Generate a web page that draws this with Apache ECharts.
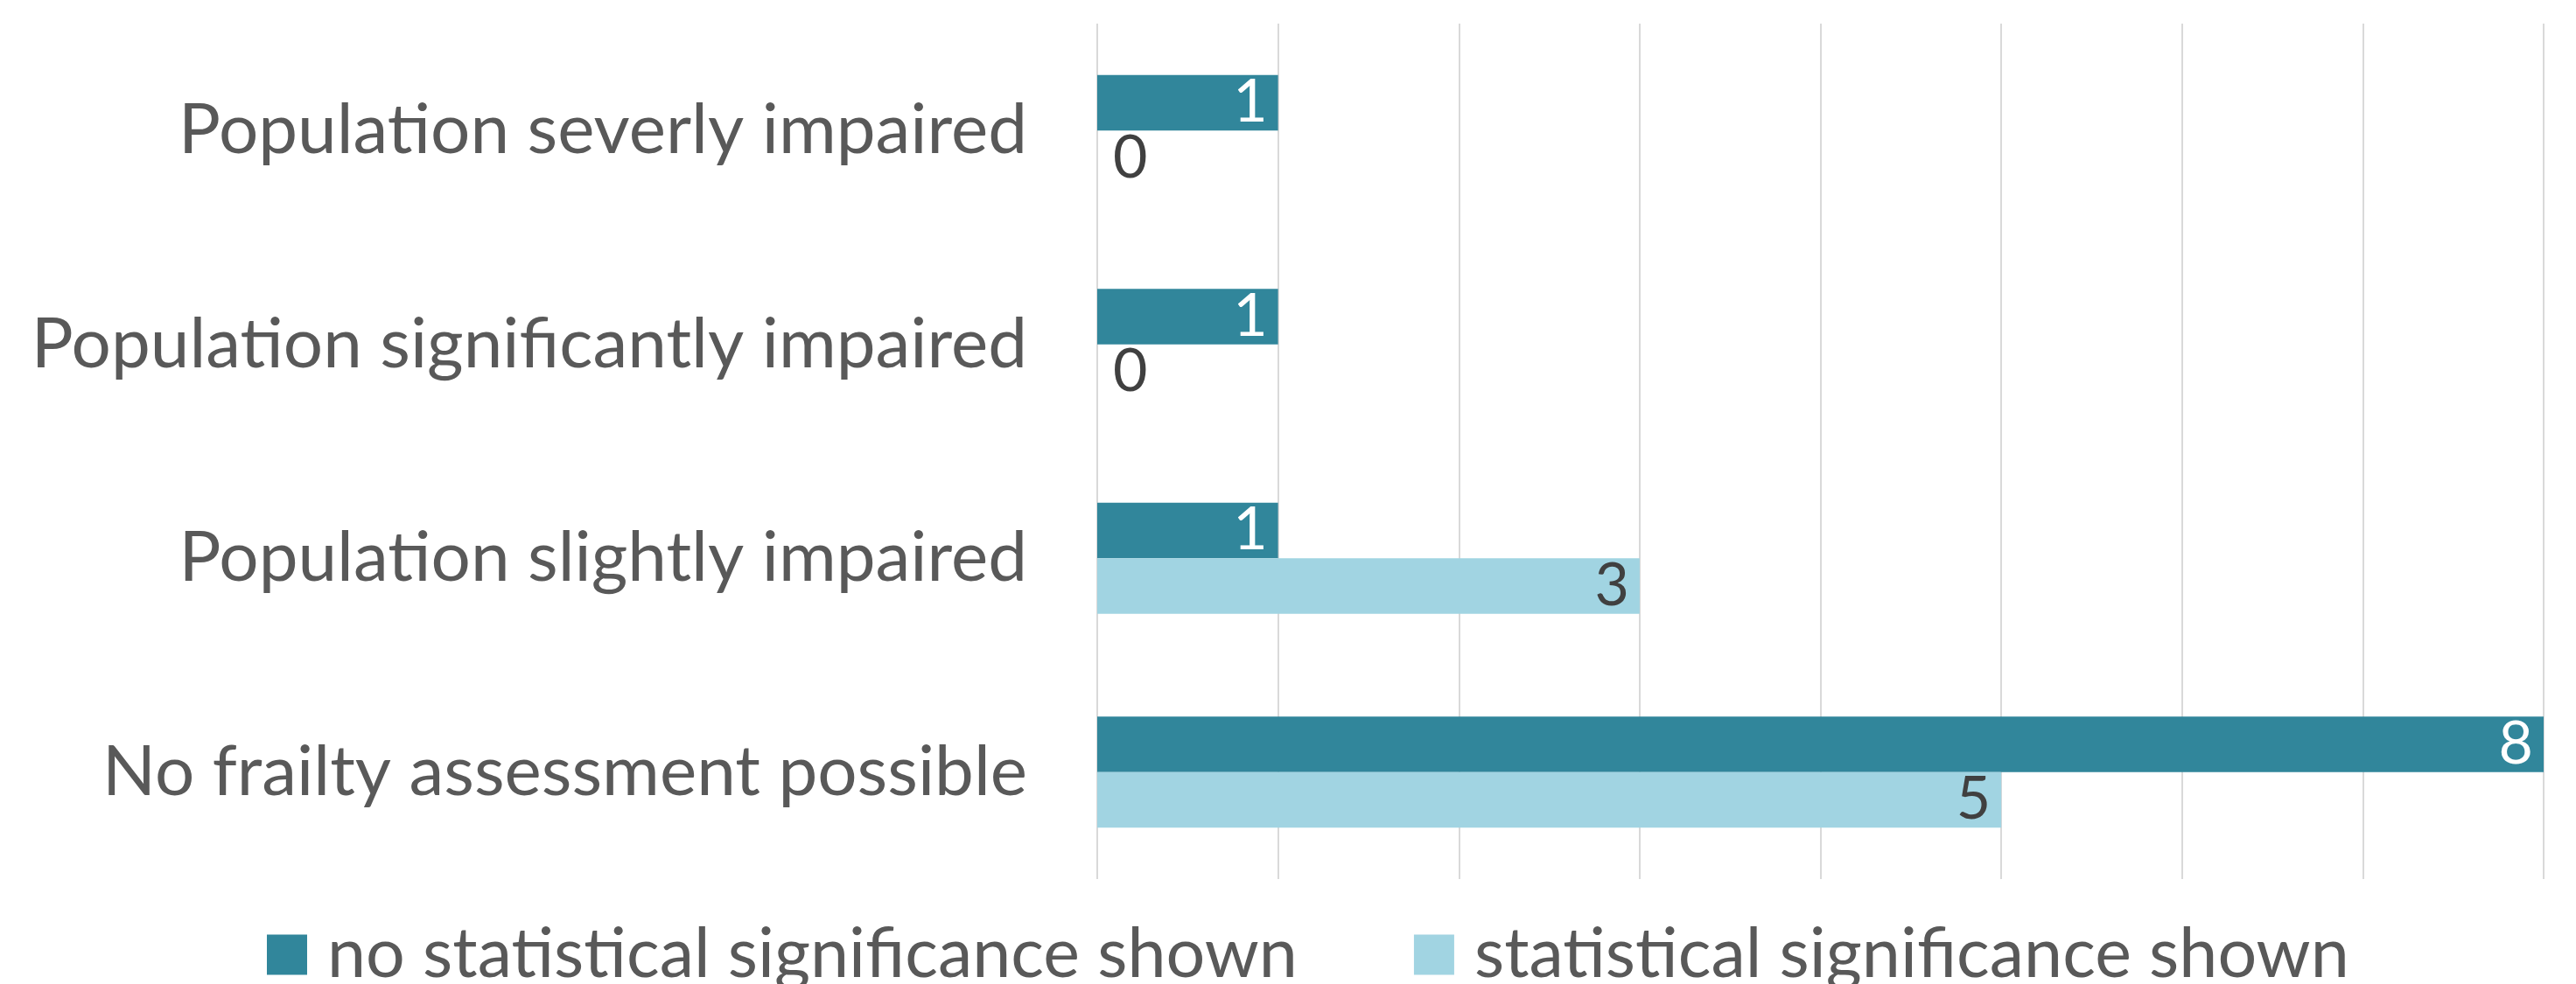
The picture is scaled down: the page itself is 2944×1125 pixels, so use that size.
<!DOCTYPE html>
<html>
<head>
<meta charset="utf-8">
<script src="https://cdn.jsdelivr.net/npm/echarts@6/dist/echarts.min.js"></script>
<style>
  html, body { margin: 0; padding: 0; background: #fff; }
  #main { width: 2944px; height: 1125px; }
</style>
</head>
<body>
<div id="main"></div>
<script>
// categories top to bottom
const categories = [
    'Population severly impaired',
    'Population significantly impaired',
    'Population slightly impaired',
    'No frailty assessment possible'
];
const seriesNames = ['no statistical significance shown', 'statistical significance shown'];
const noSignificance = [1, 1, 1, 8];
const significance = [0, 0, 3, 5];
const xTicks = { min: 0, max: 8, interval: 1 };

const chart = echarts.init(document.getElementById('main'));

// zero values get their label just right of the axis, like Excel does
function withLabels(values, color) {
    return values.map(function (v) {
        if (v === 0) {
            return { value: v, label: { position: 'right', distance: 18, color: '#404040' } };
        }
        return { value: v, label: { color: color } };
    });
}

const option = {
    backgroundColor: '#fff',
    animation: false,
    grid: { left: 1254, right: 37, top: 27, bottom: 120, containLabel: false },
    legend: {
        left: 300,
        top: 1047,
        itemWidth: 46,
        itemHeight: 46,
        itemGap: 133,
        icon: 'rect',
        textStyle: { fontFamily: 'Lato', fontSize: 79, color: '#595959', padding: [0, 0, 0, 18] },
        data: seriesNames
    },
    xAxis: {
        type: 'value',
        min: xTicks.min,
        max: xTicks.max,
        interval: xTicks.interval,
        axisLabel: { show: false },
        axisLine: { show: false },
        axisTick: { show: false },
        splitLine: { show: true, lineStyle: { color: '#d9d9d9', width: 2 } }
    },
    yAxis: {
        type: 'category',
        inverse: true,
        data: categories,
        axisLine: { show: false },
        axisTick: { show: false },
        axisLabel: {
            margin: 80,
            fontFamily: 'Lato',
            fontSize: 80,
            color: '#595959'
        }
    },
    series: [
        {
            name: seriesNames[0],
            type: 'bar',
            barGap: '0%',
            barCategoryGap: '48%',
            itemStyle: { color: '#31869b' },
            label: {
                show: true,
                position: 'insideRight',
                distance: 12,
                fontFamily: 'Lato',
                fontSize: 68,
                color: '#ffffff'
            },
            data: withLabels(noSignificance, '#ffffff')
        },
        {
            name: seriesNames[1],
            type: 'bar',
            barGap: '0%',
            barCategoryGap: '48%',
            itemStyle: { color: '#a1d4e2' },
            label: {
                show: true,
                position: 'insideRight',
                distance: 12,
                fontFamily: 'Lato',
                fontSize: 68,
                color: '#404040'
            },
            data: withLabels(significance, '#404040')
        }
    ]
};

chart.setOption(option);
</script>
</body>
</html>
